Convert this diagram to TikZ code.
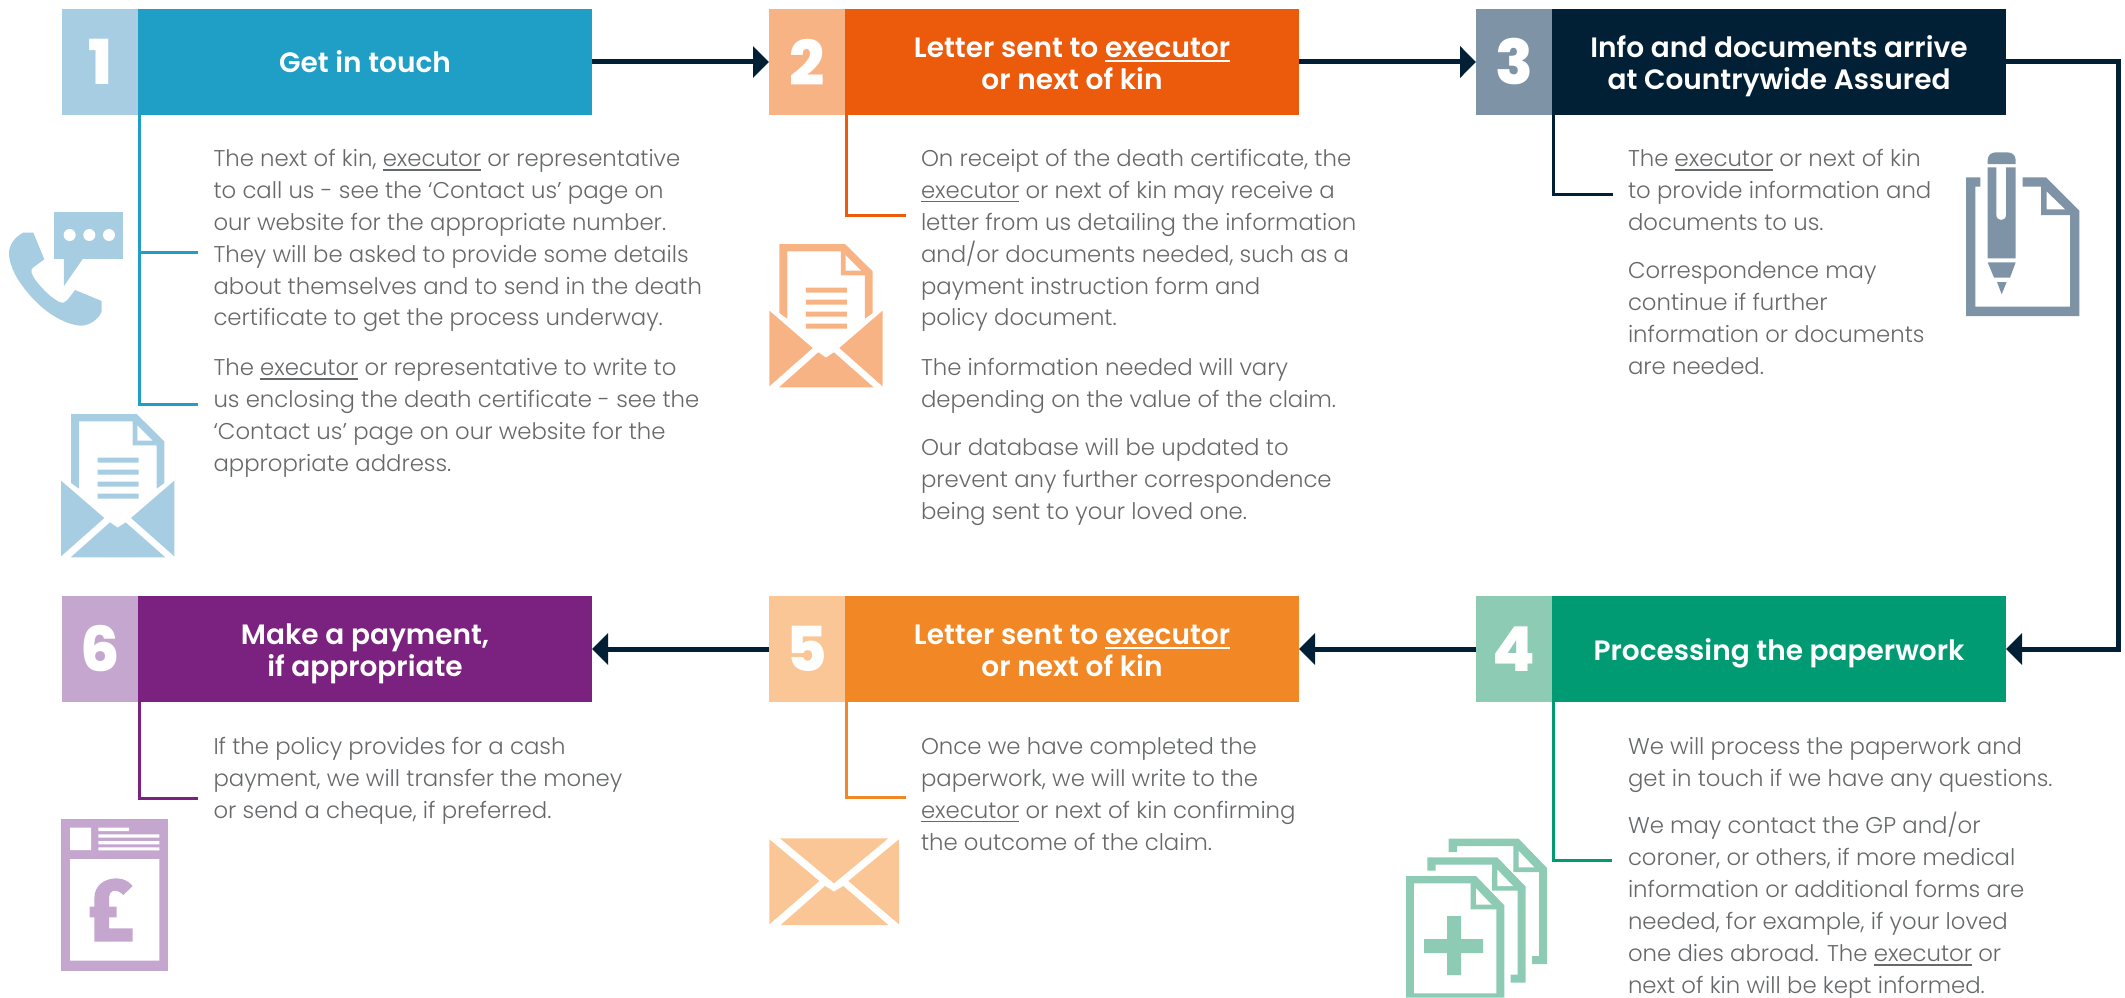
\documentclass[tikz,border=0pt]{standalone}
\usepackage{fontspec}
\setmainfont{Poppins}[UprightFont=* Light,BoldFont=* SemiBold]
\newfontface\numfont{Poppins ExtraBold}
\usetikzlibrary{arrows.meta}
\definecolor{navy}{HTML}{012035}
\definecolor{textgrey}{HTML}{66686A}
\definecolor{aL}{HTML}{A7CDE2}\definecolor{aD}{HTML}{1F9EC6}
\definecolor{bL}{HTML}{F8B384}\definecolor{bD}{HTML}{EC5A0C}
\definecolor{cL}{HTML}{7E93A6}\definecolor{cD}{HTML}{012035}
\definecolor{dL}{HTML}{8DCBB5}\definecolor{dD}{HTML}{009A73}
\definecolor{eL}{HTML}{FBC695}\definecolor{eD}{HTML}{F28725}
\definecolor{fL}{HTML}{C5A6CF}\definecolor{fD}{HTML}{7B2180}
\newcommand\ex{\vtop{\hbox{executor}\kern 2.6pt\hrule height 1.3pt}}
\newcommand\exb{\vtop{\hbox{executor}\kern 2.6pt\hrule height 1.8pt}}
\newcommand\tl[1]{\rule[-3pt]{0pt}{28pt}\smash{#1}}
\tikzset{
  numbox/.style={fill=#1,text=white,minimum width=76pt,minimum height=106pt,inner sep=0pt,outer sep=0pt,font=\fontsize{62}{62}\numfont},
  titlebox/.style={fill=#1,text=white,minimum width=454pt,minimum height=106pt,inner sep=0pt,outer sep=0pt,align=center,font=\fontsize{28}{32}\selectfont\bfseries},
  body/.style={anchor=north west,inner sep=0pt,outer sep=0pt,yshift=-9.5pt,align=left,text=textgrey,font=\fontsize{22.8}{31.9}\selectfont},
  flow/.style={navy,line width=5pt,-{Triangle[width=31pt,length=16pt]}},
  tie/.style={line width=3pt,#1}
}
\newcommand\envletter[3]{%
\begin{scope}[shift={(#1-29.33,#2-44.33)},scale=1/3,fill=#3]
\fill[even odd rule] (118,133)--(315,133)--(398,215)--(398,340)--(375,357)--(375,227)--(303,227)--(303,155)--(142,155)--(142,357)--(118,340)--cycle;
\fill[white] (317,167)--(317,213)--(363,213)--cycle;
\fill (198,264) rectangle (321,279) (198,300) rectangle (321,315) (198,336) rectangle (321,351) (198,372) rectangle (321,387);
\fill (88,333)--(218,445)--(88,560)--cycle;
\fill (428,333)--(298,445)--(428,560)--cycle;
\fill (117,563)--(235,458)--(258,474)--(282,458)--(401,563)--cycle;
\end{scope}}
\begin{document}
\begin{tikzpicture}[x=1pt,y=-1pt]
\useasboundingbox (0,0) rectangle (2125,998);
% header boxes
\node[numbox=aL] (n1) at (100,62) {1};
\node[titlebox=aD] (t1) at (365,62) {\tl{Get in touch}};
\node[numbox=bL] (n2) at (807,62) {2};
\node[titlebox=bD] (t2) at (1072,62) {\tl{Letter sent to \exb}\\\tl{or next of kin}};
\node[numbox=cL] (n3) at (1514,62) {3};
\node[titlebox=cD] (t3) at (1779,62) {\tl{Info and documents arrive}\\\tl{at Countrywide Assured}};
\node[numbox=dL] (n4) at (1514,649) {4};
\node[titlebox=dD] (t4) at (1779,649) {\tl{Processing the paperwork}};
\node[numbox=eL] (n5) at (807,649) {5};
\node[titlebox=eD] (t5) at (1072,649) {\tl{Letter sent to \exb}\\\tl{or next of kin}};
\node[numbox=fL] (n6) at (100,649) {6};
\node[titlebox=fD] (t6) at (365,649) {\tl{Make a payment,}\\\tl{if appropriate}};
% flow arrows
\coordinate (turn) at (2118,62);
\draw[flow] (t1.east) -- (n2.west);
\draw[flow] (t2.east) -- (n3.west);
\draw[flow] (t3.east) -- (turn) -- (turn |- t4.east) -- (t4.east);
\draw[flow] (n4.west) -- (t5.east);
\draw[flow] (n5.west) -- (t6.east);
% tie lines
\coordinate (a1) at (198,252); \coordinate (a2) at (198,404);
\coordinate (b1) at (906,215.5);
\coordinate (c1) at (1613,194);
\coordinate (d1) at (1612,860);
\coordinate (e1) at (906,797);
\coordinate (f1) at (198,798);
\draw[tie=aD] ([xshift=1.5pt]t1.south west) |- (a1);
\draw[tie=aD] ([xshift=1.5pt]t1.south west) |- (a2);
\draw[tie=bD] ([xshift=1.5pt]t2.south west) |- (b1);
\draw[tie=cD] ([xshift=1.5pt]t3.south west) |- (c1);
\draw[tie=dD] ([xshift=1.5pt]t4.south west) |- (d1);
\draw[tie=eD] ([xshift=1.5pt]t5.south west) |- (e1);
\draw[tie=fD] ([xshift=1.5pt]t6.south west) |- (f1);
% body text
\node[body] (p1a) at (213.5,139.7) {The next of kin, \ex{} or representative\\to call us - see the ‘Contact us’ page on\\our website for the appropriate number.\\They will be asked to provide some details\\about themselves and to send in the death\\certificate to get the process underway.};
\node[body] (p1b) at (213.5,349) {The \ex{} or representative to write to\\us enclosing the death certificate - see the\\‘Contact us’ page on our website for the\\appropriate address.};
\node[body] (p2a) at (921,139.7) {On receipt of the death certificate, the\\\ex{} or next of kin may receive a\\letter from us detailing the information\\and/or documents needed, such as a\\payment instruction form and\\policy document.};
\node[body] (p2b) at (921,348.4) {The information needed will vary\\depending on the value of the claim.};
\node[body] (p2c) at (921,429) {Our database will be updated to\\prevent any further correspondence\\being sent to your loved one.};
\node[body] (p3a) at (1628,139.7) {The \ex{} or next of kin\\to provide information and\\documents to us.};
\node[body] (p3b) at (1628,252) {Correspondence may\\continue if further\\information or documents\\are needed.};
\node[body] (p4a) at (1628,728) {We will process the paperwork and\\get in touch if we have any questions.};
\node[body] (p4b) at (1628,803) {We may contact the GP and/or\\coroner, or others, if more medical\\information or additional forms are\\needed, for example, if your loved\\one dies abroad. The \ex{} or\\next of kin will be kept informed.};
\node[body] (p5) at (921,728) {Once we have completed the\\paperwork, we will write to the\\\ex{} or next of kin confirming\\the outcome of the claim.};
\node[body] (p6) at (213.5,728) {If the policy provides for a cash\\payment, we will transfer the money\\or send a cheque, if preferred.};
% phone icon
\begin{scope}[shift={(0,200)},scale=1/3]
\fill[aL] (161,37) rectangle (370,176);
\fill[aL] (192,170)--(192,258)--(253,170)--cycle;
\fill[white] (209,105) circle (18) (268,105) circle (18) (327,105) circle (18);
\fill[aL] (70,98)--(100,98)--(133,178)--(100,202) .. controls (88,210) and (95,225) .. (110,245) .. controls (130,270) and (155,295) .. (180,307) .. controls (195,313) and (203,300) .. (225,270) -- (305,303) -- (305,335) .. controls (295,360) and (265,378) .. (240,377) .. controls (190,372) and (130,335) .. (85,280) .. controls (50,240) and (27,195) .. (27,160) .. controls (27,135) and (45,110) .. (70,98) -- cycle;
\end{scope}
% envelope icons with letter
\envletter{61}{414}{aL}
\envletter{769.3}{244}{bL}
% pencil and document
\begin{scope}[shift={(1950,140)},scale=1/3,fill=cL]
\fill (48,112)--(91,112)--(91,140)--(76,140)--(76,500)--(360,500)--(360,225)--(273,225)--(273,140)--(218,140)--(218,112)--(288,112)--(388,212)--(388,528)--(48,528)--cycle;
\fill[white] (290,155)--(290,208)--(345,208)--cycle;
\fill (113,72)--(113,60) .. controls (113,45) and (125,37) .. (138,37) -- (172,37) .. controls (185,37) and (197,45) .. (197,60) -- (197,72) -- cycle;
\fill (113,82)--(139,82)--(139,225) .. controls (139,245) and (168,245) .. (168,225) -- (168,82)--(197,82)--(197,355)--(113,355)--cycle;
\fill (113,367)--(197,367)--(180,413)--(132,413)--cycle;
\fill (141,426)--(170,426)--(155,463)--cycle;
\end{scope}
% stacked documents
\begin{scope}[shift={(1380,800)},scale=1/3,fill=dL]
\fill (206,116)--(416,116)--(501,204)--(501,492)--(456,492)--(456,468)--(477,468)--(477,216)--(400,216)--(400,138)--(231,138)--(231,156)--(206,156)--cycle;
\fill[white] (416,153)--(416,202)--(463,202)--cycle;
\fill (142,172)--(352,172)--(437,260)--(437,548)--(392,548)--(392,524)--(413,524)--(413,272)--(336,272)--(336,194)--(167,194)--(167,212)--(142,212)--cycle;
\fill[white] (352,209)--(352,258)--(399,258)--cycle;
\fill (78,228)--(288,228)--(373,316)--(373,593)--(78,593)--cycle;
\fill[white] (102,250)--(272,250)--(272,328)--(349,328)--(349,580)--(102,580)--cycle;
\fill[white] (288,265)--(288,314)--(335,314)--cycle;
\fill (201,348) rectangle (243,525) (132,417) rectangle (309,459);
\end{scope}
% plain envelope
\begin{scope}[shift={(760,820)},scale=1/3,fill=eL]
\fill (28,58)--(178,183)--(28,313)--cycle;
\fill (60,55)--(385,55)--(222,190)--cycle;
\fill (417,58)--(265,183)--(417,313)--cycle;
\fill (62,315)--(195,198)--(222,215)--(250,198)--(385,315)--cycle;
\end{scope}
% pound statement
\begin{scope}[shift={(40,800)},scale=1/3,fill=fL]
\fill (63,57) rectangle (385,512);
\fill[white] (90,83) rectangle (153,150) (175,83) rectangle (267,93) (175,103) rectangle (358,113) (175,123) rectangle (358,133) (175,142) rectangle (358,151) (90,177) rectangle (358,482);
\fill (163,425)--(163,352)--(149,352)--(149,320)--(163,320)--(163,295) .. controls (163,255) and (195,235) .. (230,235) .. controls (250,235) and (268,245) .. (278,258) -- (250,285) .. controls (240,275) and (232,272) .. (225,272) .. controls (213,272) and (207,282) .. (207,295) -- (207,320)--(230,320)--(230,352)--(207,352)--(207,385)--(278,385)--(278,425)--cycle;
\end{scope}
\end{tikzpicture}
\end{document}
